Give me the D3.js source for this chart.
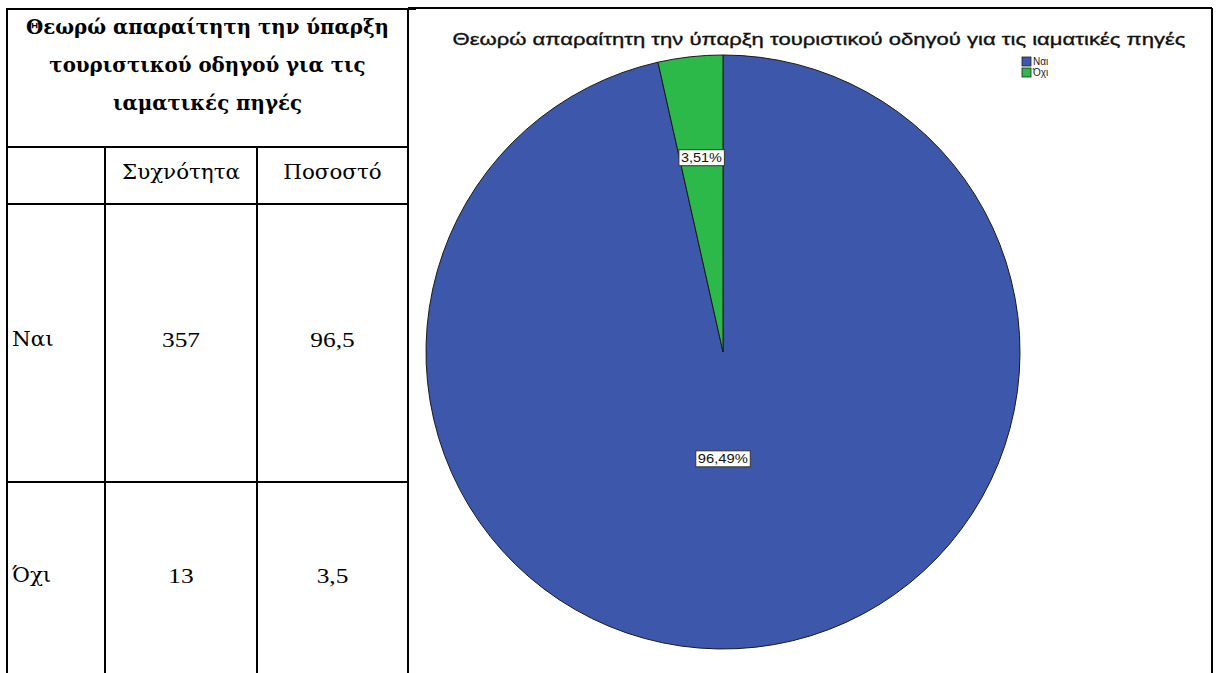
<!DOCTYPE html>
<html><head><meta charset="utf-8">
<script src="https://cdn.jsdelivr.net/npm/d3@7/dist/d3.min.js"></script>
<style>body{margin:0;background:#fff}svg{display:block}</style>
</head><body>
<script>
const tableTitle = ["Θεωρώ απαραίτητη την ύπαρξη","τουριστικού οδηγού για τις","ιαματικές πηγές"];
const colHeaders = ["", "Συχνότητα", "Ποσοστό"];
const categories = ["Ναι", "Όχι"];
const frequencies = [357, 13];
const percents = [96.5, 3.5];
const chartTitle = "Θεωρώ απαραίτητη την ύπαρξη τουριστικού οδηγού για τις ιαματικές πηγές";
const colors = ["#3D58AB", "#2DB84A"];

const W = 1218, H = 673;
const svg = d3.select("body").append("svg").attr("width", W).attr("height", H);

function stretch(sel, k){
  sel.each(function(){
    const L = this.getComputedTextLength();
    d3.select(this).attr("textLength", L*k).attr("lengthAdjust","spacingAndGlyphs");
  });
  return sel;
}

// ---- table ----
const colX = [7, 105, 257, 408];
const rowY = [9, 147, 204, 482, 673];
const line = (x1,y1,x2,y2)=>svg.append("line").attr("x1",x1).attr("y1",y1).attr("x2",x2).attr("y2",y2)
  .attr("stroke","#000").attr("stroke-width",2);
line(colX[0]-1, rowY[0], 416, rowY[0]);
line(colX[0], rowY[0], colX[0], H);
line(colX[3], rowY[0], colX[3], H);
[1,2,3].forEach(i=>line(colX[0], rowY[i], colX[3], rowY[i]));
[1,2].forEach(i=>line(colX[i], rowY[1], colX[i], H));

const serif = "'Liberation Serif','DejaVu Serif','Times New Roman',serif";
const greekSerif = "'DejaVu Serif','Liberation Serif',serif";
const fs = 21;
const ht = svg.append("g");
tableTitle.forEach((t,i)=>{
  ht.append("text").attr("x",(colX[0]+colX[3])/2).attr("y",27+i*38).attr("dy","0.35em")
    .attr("text-anchor","middle").attr("font-family",greekSerif).attr("font-weight","bold")
    .attr("font-size",20).text(t);
});
const tg = svg.append("g");  // greek body text
const tn = svg.append("g");  // numbers
colHeaders.forEach((t,i)=>{
  if(!t) return;
  tg.append("text").attr("x",(colX[i]+colX[i+1])/2).attr("y",172).attr("dy","0.35em")
    .attr("text-anchor","middle").attr("font-family",greekSerif).attr("font-size",fs).text(t);
});
const rowTextY = [339, 575];
categories.forEach((c,i)=>{
  tg.append("text").attr("x",12).attr("y",rowTextY[i]).attr("dy","0.35em")
    .attr("font-family",greekSerif).attr("font-size",fs).text(c);
  tn.append("text").attr("x",(colX[1]+colX[2])/2).attr("y",rowTextY[i]).attr("dy","0.35em")
    .attr("text-anchor","middle").attr("font-family",serif).attr("font-size",22).text(frequencies[i]);
  tn.append("text").attr("x",(colX[2]+colX[3])/2).attr("y",rowTextY[i]).attr("dy","0.35em")
    .attr("text-anchor","middle").attr("font-family",serif).attr("font-size",22)
    .text(d3.format(".1f")(percents[i]).replace(".",","));
});
// calibrate against widths measured on the reference
stretch(ht.selectAll("text"), 363/ht.select("text").node().getComputedTextLength());
stretch(tg.selectAll("text"), 118/tg.select("text").node().getComputedTextLength());
stretch(tn.selectAll("text"), 38/tn.select("text").node().getComputedTextLength());

// ---- chart panel ----
line(408, 8, 1212, 8);
line(1212, 8, 1212, H);

const sans = "'Liberation Sans',Arial,sans-serif";
const title = svg.append("text").attr("x",819).attr("y",39).attr("dy","0.35em").attr("text-anchor","middle")
  .attr("font-family",sans).attr("font-size",17).attr("fill","#111")
  .attr("stroke","#111").attr("stroke-width",0.35).text(chartTitle);
stretch(title, 733/title.node().getComputedTextLength());

const cx = 723, cy = 352, R = 297;
const pie = d3.pie().sort(null).value(d=>d)(frequencies);
const arc = d3.arc().innerRadius(0).outerRadius(R);
const g = svg.append("g").attr("transform",`translate(${cx},${cy})`);
g.selectAll("path").data(pie).join("path")
  .attr("d",arc).attr("fill",(d,i)=>colors[i]).attr("stroke","#1a1a1a").attr("stroke-width",1);

const total = d3.sum(frequencies);
const labelR = [0.36, 0.66];
const labelW = [50, 41];
pie.forEach((d,i)=>{
  const a = (d.startAngle+d.endAngle)/2;
  const x = Math.sin(a)*R*labelR[i] - (i===0?12:0), y = -Math.cos(a)*R*labelR[i];
  const txt = d3.format(".2f")(frequencies[i]/total*100).replace(".",",")+"%";
  const t = g.append("text").attr("x",x).attr("y",y).attr("dy","0.35em").attr("text-anchor","middle")
    .attr("font-family",sans).attr("font-size",13).attr("fill","#111").text(txt);
  stretch(t, labelW[i]/t.node().getComputedTextLength());
  const bb = t.node().getBBox();
  g.insert("rect", "text").attr("x",bb.x-2).attr("y",bb.y).attr("width",bb.width+4).attr("height",bb.height+1)
    .attr("fill","#fff").attr("stroke","#333").attr("stroke-width",1);
});

// legend
const lg = svg.append("g").attr("transform","translate(1022,57)");
categories.forEach((c,i)=>{
  lg.append("rect").attr("x",0).attr("y",i*11).attr("width",9).attr("height",9)
    .attr("fill",colors[i]).attr("stroke","#222").attr("stroke-width",0.8);
  lg.append("text").attr("x",11).attr("y",i*11+4.5).attr("dy","0.35em")
    .attr("font-family",sans).attr("font-size",10).attr("fill","#222").text(c);
});
</script>
</body></html>
